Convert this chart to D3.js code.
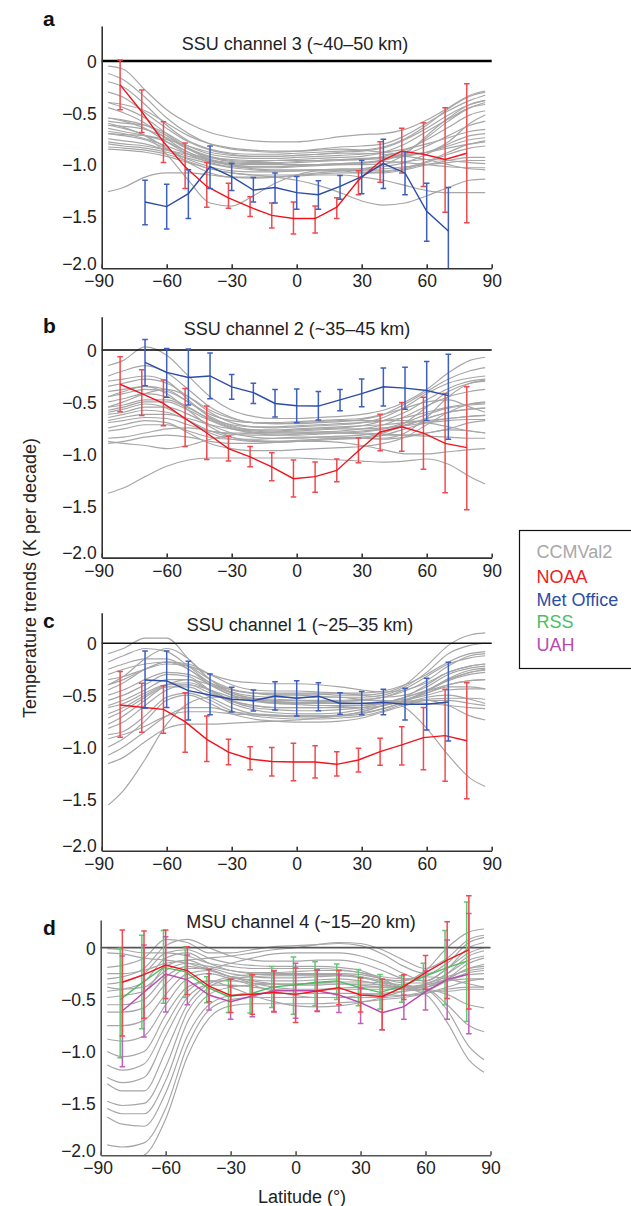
<!DOCTYPE html>
<html><head><meta charset="utf-8">
<script src="https://cdn.jsdelivr.net/npm/d3@7"></script>
<style>body{margin:0;background:#fff}svg{display:block}</style>
</head><body><svg id="c" width="631" height="1206"></svg>
<script>
// ---------------- DATA ----------------
const panelLetters = ["a","b","c","d"];
const panelTitles = ["SSU channel 3 (~40\u201350 km)","SSU channel 2 (~35\u201345 km)","SSU channel 1 (~25\u201335 km)","MSU channel 4 (~15\u201320 km)"];
const xTicks = [-90,-60,-30,0,30,60,90];
const xTickLabels = ["\u221290","\u221260","\u221230","0","30","60","90"];
const yTicks = [0,-0.5,-1.0,-1.5,-2.0];
const yTickLabels = ["0","\u22120.5","\u22121.0","\u22121.5","\u22122.0"];
const legendNames = ["CCMVal2","NOAA","Met Office","RSS","UAH"];

const ccmLat = [-87,-80,-70,-60,-50,-40,-30,-20,-10,0,10,20,30,40,50,60,70,80,87];
const ccmA = [
 [-0.05,-0.08,-0.28,-0.47,-0.60,-0.69,-0.74,-0.77,-0.78,-0.78,-0.76,-0.73,-0.71,-0.70,-0.66,-0.57,-0.45,-0.33,-0.29],
 [-0.12,-0.18,-0.35,-0.55,-0.70,-0.80,-0.85,-0.87,-0.88,-0.87,-0.85,-0.83,-0.82,-0.80,-0.72,-0.60,-0.48,-0.38,-0.33],
 [-0.30,-0.35,-0.50,-0.65,-0.78,-0.86,-0.90,-0.92,-0.92,-0.91,-0.90,-0.88,-0.87,-0.84,-0.76,-0.65,-0.52,-0.42,-0.38],
 [-0.40,-0.45,-0.55,-0.70,-0.84,-0.92,-0.96,-0.97,-0.96,-0.95,-0.94,-0.93,-0.92,-0.88,-0.80,-0.68,-0.56,-0.45,-0.42],
 [-0.45,-0.50,-0.60,-0.75,-0.88,-0.95,-0.98,-0.99,-0.99,-0.98,-0.97,-0.96,-0.95,-0.92,-0.86,-0.76,-0.64,-0.52,-0.48],
 [-0.55,-0.58,-0.65,-0.78,-0.90,-0.98,-1.02,-1.03,-1.03,-1.02,-1.01,-1.00,-0.99,-0.96,-0.90,-0.82,-0.72,-0.62,-0.58],
 [-0.58,-0.60,-0.62,-0.70,-0.82,-0.90,-0.93,-0.94,-0.94,-0.93,-0.92,-0.91,-0.90,-0.88,-0.85,-0.80,-0.74,-0.68,-0.66],
 [-0.62,-0.63,-0.66,-0.74,-0.85,-0.93,-0.97,-0.98,-0.98,-0.97,-0.96,-0.95,-0.95,-0.94,-0.92,-0.88,-0.82,-0.76,-0.74],
 [-0.65,-0.68,-0.72,-0.78,-0.88,-0.96,-1.01,-1.04,-1.05,-1.05,-1.05,-1.04,-1.04,-1.02,-0.98,-0.90,-0.80,-0.72,-0.70],
 [-0.68,-0.70,-0.75,-0.82,-0.90,-0.96,-0.99,-1.00,-1.00,-1.00,-1.00,-1.00,-1.00,-0.99,-0.97,-0.95,-0.96,-0.98,-0.99],
 [-0.70,-0.72,-0.76,-0.85,-0.95,-1.02,-1.06,-1.07,-1.07,-1.06,-1.05,-1.05,-1.06,-1.06,-1.03,-0.97,-0.88,-0.80,-0.77],
 [-0.75,-0.77,-0.80,-0.86,-0.92,-0.97,-1.00,-1.02,-1.02,-1.01,-1.00,-0.99,-0.98,-0.97,-0.98,-1.00,-1.02,-1.03,-1.03],
 [-0.78,-0.80,-0.82,-0.86,-0.90,-0.93,-0.95,-0.96,-0.96,-0.96,-0.96,-0.95,-0.94,-0.93,-0.91,-0.88,-0.84,-0.80,-0.78],
 [-0.80,-0.82,-0.84,-0.88,-0.94,-0.99,-1.03,-1.05,-1.06,-1.06,-1.05,-1.05,-1.05,-1.04,-1.02,-1.00,-0.98,-0.96,-0.96],
 [-0.83,-0.84,-0.86,-0.90,-0.97,-1.04,-1.08,-1.10,-1.10,-1.10,-1.09,-1.08,-1.08,-1.07,-1.04,-0.98,-0.90,-0.84,-0.82],
 [-0.40,-0.42,-0.48,-0.60,-0.72,-0.80,-0.84,-0.86,-0.87,-0.87,-0.86,-0.85,-0.86,-0.88,-0.90,-0.88,-0.78,-0.60,-0.52],
 [-0.62,-0.65,-0.72,-0.90,-1.15,-1.37,-1.40,-1.30,-1.18,-1.10,-1.06,-1.06,-1.08,-1.08,-1.05,-1.00,-0.96,-0.93,-0.93],
 [-1.26,-1.22,-1.12,-1.08,-1.08,-1.10,-1.12,-1.12,-1.12,-1.11,-1.10,-1.10,-1.12,-1.15,-1.20,-1.25,-1.27,-1.27,-1.27],
 [-0.85,-0.86,-0.88,-0.92,-0.98,-1.04,-1.08,-1.10,-1.12,-1.15,-1.20,-1.27,-1.35,-1.39,-1.37,-1.30,-1.22,-1.15,-1.14],
 [-0.20,-0.25,-0.42,-0.62,-0.77,-0.85,-0.89,-0.90,-0.90,-0.89,-0.88,-0.87,-0.86,-0.83,-0.75,-0.62,-0.46,-0.34,-0.30],
 [-0.55,-0.57,-0.62,-0.72,-0.85,-0.95,-1.00,-1.02,-1.02,-1.01,-1.00,-0.99,-0.98,-0.95,-0.88,-0.74,-0.58,-0.45,-0.40],
 [-0.70,-0.71,-0.72,-0.76,-0.82,-0.88,-0.91,-0.92,-0.92,-0.91,-0.90,-0.89,-0.89,-0.90,-0.92,-0.95,-1.00,-1.04,-1.05],
 [-0.60,-0.64,-0.72,-0.84,-0.98,-1.08,-1.12,-1.13,-1.12,-1.10,-1.08,-1.06,-1.04,-1.00,-0.90,-0.72,-0.55,-0.42,-0.38]
];
const ccmB = [
 [-0.15,-0.10,0.03,-0.05,-0.25,-0.45,-0.58,-0.64,-0.66,-0.66,-0.65,-0.64,-0.62,-0.58,-0.50,-0.38,-0.22,-0.10,-0.07],
 [-0.25,-0.20,-0.15,-0.22,-0.38,-0.55,-0.65,-0.70,-0.71,-0.71,-0.70,-0.69,-0.67,-0.62,-0.52,-0.40,-0.28,-0.20,-0.17],
 [-0.35,-0.32,-0.28,-0.32,-0.45,-0.60,-0.70,-0.74,-0.75,-0.74,-0.73,-0.72,-0.70,-0.65,-0.55,-0.42,-0.32,-0.27,-0.25],
 [-0.45,-0.40,-0.35,-0.38,-0.50,-0.64,-0.73,-0.77,-0.78,-0.77,-0.76,-0.75,-0.73,-0.68,-0.60,-0.48,-0.37,-0.30,-0.28],
 [-0.50,-0.47,-0.42,-0.45,-0.55,-0.67,-0.75,-0.79,-0.80,-0.80,-0.79,-0.78,-0.76,-0.72,-0.64,-0.54,-0.45,-0.40,-0.38],
 [-0.55,-0.53,-0.48,-0.48,-0.56,-0.66,-0.72,-0.74,-0.74,-0.73,-0.72,-0.71,-0.70,-0.68,-0.65,-0.60,-0.55,-0.52,-0.51],
 [-0.58,-0.55,-0.50,-0.50,-0.58,-0.68,-0.76,-0.80,-0.82,-0.82,-0.81,-0.80,-0.79,-0.76,-0.70,-0.62,-0.56,-0.53,-0.52],
 [-0.62,-0.60,-0.55,-0.55,-0.62,-0.72,-0.80,-0.84,-0.85,-0.85,-0.84,-0.83,-0.82,-0.79,-0.73,-0.66,-0.60,-0.57,-0.56],
 [-0.65,-0.62,-0.58,-0.60,-0.68,-0.78,-0.84,-0.87,-0.88,-0.88,-0.87,-0.86,-0.85,-0.82,-0.76,-0.70,-0.66,-0.64,-0.63],
 [-0.70,-0.68,-0.65,-0.66,-0.72,-0.78,-0.80,-0.80,-0.79,-0.78,-0.77,-0.76,-0.76,-0.75,-0.73,-0.70,-0.68,-0.67,-0.67],
 [-0.55,-0.50,-0.42,-0.38,-0.45,-0.58,-0.66,-0.70,-0.71,-0.70,-0.69,-0.68,-0.68,-0.68,-0.68,-0.70,-0.74,-0.78,-0.80],
 [-0.85,-0.84,-0.80,-0.76,-0.75,-0.78,-0.81,-0.82,-0.82,-0.81,-0.80,-0.80,-0.80,-0.81,-0.82,-0.83,-0.84,-0.85,-0.85],
 [-0.88,-0.90,-0.92,-0.95,-0.92,-0.86,-0.82,-0.80,-0.80,-0.80,-0.80,-0.80,-0.81,-0.82,-0.82,-0.80,-0.76,-0.70,-0.68],
 [-0.40,-0.38,-0.35,-0.42,-0.58,-0.74,-0.84,-0.88,-0.89,-0.88,-0.86,-0.85,-0.85,-0.85,-0.80,-0.65,-0.45,-0.32,-0.29],
 [-0.30,-0.28,-0.25,-0.30,-0.48,-0.65,-0.74,-0.77,-0.77,-0.76,-0.75,-0.74,-0.73,-0.72,-0.70,-0.68,-0.66,-0.64,-0.63],
 [-0.75,-0.72,-0.68,-0.70,-0.80,-0.90,-0.95,-0.97,-0.97,-0.96,-0.95,-0.94,-0.93,-0.90,-0.84,-0.72,-0.60,-0.52,-0.50],
 [-1.38,-1.33,-1.22,-1.12,-1.06,-1.04,-1.04,-1.04,-1.04,-1.04,-1.05,-1.06,-1.07,-1.08,-1.07,-1.05,-1.10,-1.22,-1.29],
 [-0.90,-0.88,-0.84,-0.82,-0.84,-0.88,-0.90,-0.90,-0.89,-0.88,-0.88,-0.89,-0.92,-0.96,-1.00,-1.00,-0.98,-0.96,-0.95],
 [-0.45,-0.42,-0.38,-0.40,-0.50,-0.62,-0.68,-0.70,-0.70,-0.69,-0.68,-0.67,-0.66,-0.62,-0.56,-0.50,-0.48,-0.55,-0.60],
 [-0.60,-0.57,-0.52,-0.56,-0.68,-0.80,-0.86,-0.88,-0.88,-0.87,-0.86,-0.85,-0.84,-0.80,-0.70,-0.55,-0.40,-0.32,-0.30],
 [-0.68,-0.65,-0.62,-0.62,-0.66,-0.72,-0.76,-0.78,-0.79,-0.79,-0.79,-0.79,-0.78,-0.76,-0.72,-0.66,-0.60,-0.57,-0.56],
 [-0.78,-0.76,-0.72,-0.72,-0.78,-0.84,-0.86,-0.86,-0.85,-0.84,-0.84,-0.84,-0.85,-0.86,-0.84,-0.80,-0.77,-0.78,-0.80]
];
const ccmC = [
 [-0.10,-0.05,0.05,0.05,-0.15,-0.35,-0.45,-0.48,-0.49,-0.49,-0.49,-0.50,-0.50,-0.48,-0.40,-0.22,-0.02,0.08,0.10],
 [-0.18,-0.12,-0.05,-0.08,-0.22,-0.38,-0.47,-0.51,-0.52,-0.52,-0.52,-0.52,-0.52,-0.50,-0.42,-0.28,-0.10,-0.02,0.00],
 [-0.25,-0.20,-0.15,-0.15,-0.25,-0.38,-0.45,-0.48,-0.48,-0.48,-0.48,-0.48,-0.48,-0.46,-0.40,-0.30,-0.18,-0.10,-0.08],
 [-0.30,-0.25,-0.20,-0.18,-0.25,-0.40,-0.50,-0.55,-0.57,-0.57,-0.57,-0.56,-0.55,-0.52,-0.44,-0.32,-0.20,-0.14,-0.12],
 [-0.35,-0.32,-0.25,-0.20,-0.22,-0.30,-0.36,-0.38,-0.39,-0.39,-0.40,-0.42,-0.45,-0.47,-0.45,-0.38,-0.28,-0.22,-0.20],
 [-0.45,-0.38,-0.25,-0.18,-0.20,-0.30,-0.40,-0.45,-0.46,-0.46,-0.47,-0.48,-0.50,-0.52,-0.50,-0.42,-0.30,-0.24,-0.22],
 [-0.50,-0.45,-0.35,-0.28,-0.30,-0.40,-0.50,-0.55,-0.58,-0.59,-0.60,-0.60,-0.60,-0.57,-0.52,-0.45,-0.35,-0.28,-0.26],
 [-0.55,-0.50,-0.40,-0.30,-0.32,-0.45,-0.56,-0.62,-0.64,-0.65,-0.65,-0.64,-0.62,-0.58,-0.52,-0.46,-0.40,-0.36,-0.35],
 [-0.60,-0.55,-0.45,-0.35,-0.35,-0.46,-0.58,-0.64,-0.67,-0.68,-0.68,-0.67,-0.64,-0.60,-0.55,-0.50,-0.45,-0.44,-0.44],
 [-0.68,-0.62,-0.50,-0.40,-0.38,-0.45,-0.55,-0.60,-0.62,-0.62,-0.62,-0.61,-0.60,-0.58,-0.56,-0.54,-0.53,-0.53,-0.54],
 [-0.78,-0.70,-0.55,-0.42,-0.42,-0.52,-0.62,-0.68,-0.70,-0.71,-0.71,-0.70,-0.66,-0.60,-0.52,-0.40,-0.28,-0.22,-0.20],
 [-0.82,-0.76,-0.60,-0.45,-0.40,-0.45,-0.52,-0.56,-0.58,-0.58,-0.58,-0.58,-0.58,-0.57,-0.57,-0.58,-0.60,-0.62,-0.63],
 [-0.88,-0.85,-0.70,-0.52,-0.48,-0.55,-0.65,-0.70,-0.72,-0.73,-0.73,-0.72,-0.70,-0.65,-0.58,-0.52,-0.50,-0.54,-0.58],
 [-1.00,-0.92,-0.75,-0.55,-0.50,-0.58,-0.68,-0.73,-0.75,-0.76,-0.76,-0.75,-0.72,-0.66,-0.60,-0.55,-0.60,-0.70,-0.74],
 [-1.08,-1.00,-0.85,-0.70,-0.62,-0.62,-0.66,-0.68,-0.69,-0.70,-0.70,-0.69,-0.67,-0.63,-0.56,-0.46,-0.36,-0.30,-0.28],
 [-1.16,-1.10,-0.95,-0.82,-0.78,-0.78,-0.77,-0.76,-0.75,-0.74,-0.72,-0.70,-0.66,-0.60,-0.55,-0.48,-0.42,-0.42,-0.44],
 [-1.56,-1.42,-1.12,-0.78,-0.58,-0.52,-0.52,-0.53,-0.54,-0.55,-0.56,-0.57,-0.58,-0.58,-0.57,-0.55,-0.55,-0.58,-0.60],
 [-0.40,-0.32,-0.15,-0.05,-0.15,-0.35,-0.48,-0.54,-0.56,-0.57,-0.57,-0.56,-0.55,-0.55,-0.62,-0.82,-1.08,-1.30,-1.38],
 [-0.62,-0.58,-0.48,-0.40,-0.40,-0.48,-0.56,-0.60,-0.62,-0.62,-0.62,-0.62,-0.62,-0.60,-0.55,-0.48,-0.40,-0.36,-0.35],
 [-0.72,-0.65,-0.52,-0.40,-0.35,-0.40,-0.48,-0.53,-0.55,-0.55,-0.55,-0.55,-0.54,-0.52,-0.46,-0.36,-0.22,-0.12,-0.10],
 [-0.92,-0.88,-0.80,-0.70,-0.66,-0.66,-0.68,-0.69,-0.70,-0.70,-0.70,-0.70,-0.68,-0.63,-0.56,-0.46,-0.35,-0.28,-0.25],
 [-0.40,-0.35,-0.25,-0.18,-0.22,-0.35,-0.44,-0.48,-0.50,-0.50,-0.51,-0.52,-0.54,-0.56,-0.54,-0.46,-0.34,-0.26,-0.24]
];
const ccmD = [
 [-0.01,-0.02,-0.05,-0.05,-0.08,-0.15,-0.18,-0.20,-0.20,-0.20,-0.20,-0.21,-0.24,-0.30,-0.32,-0.22,0.00,0.15,0.18],
 [-0.19,-0.17,-0.10,0.08,0.05,-0.05,-0.05,-0.02,0.01,0.02,0.03,0.04,0.02,-0.06,-0.18,-0.25,-0.15,0.05,0.10],
 [-0.30,-0.28,-0.20,0.02,0.08,0.00,-0.08,-0.12,-0.13,-0.13,-0.12,-0.12,-0.15,-0.22,-0.30,-0.32,-0.20,-0.05,0.00],
 [-0.35,-0.33,-0.25,-0.05,-0.02,-0.10,-0.15,-0.17,-0.18,-0.18,-0.18,-0.19,-0.22,-0.30,-0.38,-0.38,-0.25,-0.08,-0.03],
 [-0.42,-0.40,-0.33,-0.10,-0.05,-0.15,-0.22,-0.25,-0.26,-0.26,-0.26,-0.26,-0.28,-0.34,-0.40,-0.40,-0.30,-0.15,-0.10],
 [-0.48,-0.46,-0.42,-0.18,-0.12,-0.20,-0.28,-0.31,-0.32,-0.32,-0.31,-0.30,-0.32,-0.36,-0.38,-0.35,-0.28,-0.22,-0.20],
 [-0.55,-0.55,-0.50,-0.28,-0.18,-0.22,-0.28,-0.32,-0.35,-0.36,-0.36,-0.35,-0.35,-0.36,-0.38,-0.36,-0.32,-0.30,-0.30],
 [-0.62,-0.62,-0.58,-0.35,-0.20,-0.20,-0.25,-0.28,-0.29,-0.29,-0.28,-0.27,-0.28,-0.32,-0.38,-0.42,-0.42,-0.40,-0.40],
 [-0.75,-0.75,-0.70,-0.45,-0.25,-0.22,-0.28,-0.34,-0.38,-0.40,-0.40,-0.39,-0.38,-0.38,-0.38,-0.36,-0.30,-0.20,-0.16],
 [-0.88,-0.90,-0.85,-0.55,-0.30,-0.25,-0.30,-0.36,-0.42,-0.46,-0.48,-0.48,-0.46,-0.44,-0.42,-0.40,-0.45,-0.55,-0.58],
 [-1.00,-1.05,-1.00,-0.65,-0.38,-0.32,-0.38,-0.46,-0.52,-0.56,-0.57,-0.56,-0.53,-0.48,-0.42,-0.40,-0.55,-0.75,-0.81],
 [-1.13,-1.18,-1.12,-0.75,-0.42,-0.32,-0.32,-0.34,-0.35,-0.35,-0.34,-0.33,-0.33,-0.34,-0.36,-0.40,-0.60,-0.95,-1.08],
 [-1.25,-1.30,-1.25,-0.85,-0.48,-0.36,-0.36,-0.38,-0.40,-0.41,-0.41,-0.40,-0.40,-0.40,-0.40,-0.45,-0.72,-1.08,-1.20],
 [-1.31,-1.38,-1.38,-1.00,-0.55,-0.35,-0.28,-0.26,-0.25,-0.25,-0.25,-0.25,-0.26,-0.30,-0.34,-0.34,-0.25,-0.12,-0.08],
 [-1.48,-1.52,-1.50,-1.15,-0.62,-0.38,-0.30,-0.28,-0.27,-0.27,-0.27,-0.27,-0.29,-0.33,-0.38,-0.38,-0.30,-0.20,-0.18],
 [-1.55,-1.60,-1.60,-1.28,-0.72,-0.45,-0.38,-0.36,-0.35,-0.35,-0.35,-0.35,-0.36,-0.38,-0.40,-0.38,-0.32,-0.26,-0.25],
 [-1.63,-1.70,-1.72,-1.40,-0.85,-0.55,-0.46,-0.44,-0.44,-0.44,-0.44,-0.44,-0.44,-0.45,-0.46,-0.44,-0.40,-0.38,-0.38],
 [-1.90,-1.92,-1.88,-1.55,-0.95,-0.60,-0.50,-0.48,-0.48,-0.48,-0.48,-0.48,-0.48,-0.48,-0.46,-0.42,-0.32,-0.24,-0.22],
 [-2.02,-2.05,-2.00,-1.65,-1.05,-0.68,-0.56,-0.54,-0.54,-0.54,-0.54,-0.53,-0.52,-0.50,-0.48,-0.44,-0.38,-0.32,-0.30],
 [-0.05,-0.06,-0.10,-0.12,-0.15,-0.20,-0.15,-0.10,-0.06,-0.05,-0.05,-0.05,-0.08,-0.15,-0.25,-0.32,-0.20,0.00,0.05],
 [-0.25,-0.25,-0.22,-0.15,-0.12,-0.10,-0.08,-0.05,-0.02,0.00,0.03,0.05,0.04,-0.02,-0.12,-0.20,-0.10,0.08,0.12],
 [-0.38,-0.40,-0.38,-0.22,-0.15,-0.18,-0.22,-0.24,-0.24,-0.23,-0.22,-0.22,-0.24,-0.28,-0.30,-0.28,-0.30,-0.35,-0.38]
];

// observations, SSU channels (a-c)
const noaaLatSSU = [-81.5,-71.5,-61.5,-51.5,-41.5,-31.5,-21.5,-11.5,-1.5,8.5,18.5,28.5,38.5,48.5,58.5,68.5,78.5];
const moLatSSU = [-70,-60,-50,-40,-30,-20,-10,0,10,20,30,40,50,60,70];

const noaaA   = [-0.23,-0.49,-0.78,-1.02,-1.21,-1.32,-1.41,-1.49,-1.52,-1.52,-1.41,-1.15,-0.97,-0.87,-0.90,-0.95,-0.89];
const noaaAHi = [0.01,-0.28,-0.585,-0.79,-0.98,-1.18,-1.31,-1.37,-1.36,-1.40,-1.32,-1.06,-0.78,-0.65,-0.595,-0.45,-0.22];
const noaaALo = [-0.47,-0.69,-0.98,-1.23,-1.41,-1.42,-1.50,-1.61,-1.67,-1.66,-1.52,-1.29,-1.17,-1.08,-1.21,-1.46,-1.56];
const moA   = [-1.36,-1.405,-1.28,-1.02,-1.115,-1.245,-1.22,-1.27,-1.29,-1.21,-1.115,-0.99,-1.08,-1.45,-1.64];
const moAHi = [-1.15,-1.19,-1.05,-0.82,-0.99,-1.125,-1.08,-1.115,-1.155,-1.105,-0.96,-0.755,-0.875,-1.18,-1.22];
const moALo = [-1.58,-1.62,-1.52,-1.23,-1.25,-1.36,-1.37,-1.43,-1.43,-1.335,-1.28,-1.23,-1.29,-1.74,-2.1];

const noaaB   = [-0.33,-0.42,-0.515,-0.66,-0.80,-0.95,-1.03,-1.125,-1.24,-1.22,-1.16,-0.97,-0.79,-0.74,-0.80,-0.90,-0.94];
const noaaBHi = [-0.064,-0.19,-0.29,-0.37,-0.54,-0.83,-0.93,-0.99,-1.06,-1.08,-1.05,-0.845,-0.62,-0.505,-0.455,-0.42,-0.355];
const noaaBLo = [-0.595,-0.63,-0.73,-0.93,-1.055,-1.07,-1.125,-1.26,-1.415,-1.37,-1.27,-1.087,-0.97,-0.975,-1.15,-1.375,-1.54];
const moB   = [-0.12,-0.215,-0.265,-0.25,-0.355,-0.41,-0.515,-0.537,-0.54,-0.48,-0.42,-0.354,-0.367,-0.39,-0.44];
const moBHi = [0.10,0.015,0.01,-0.03,-0.235,-0.32,-0.38,-0.376,-0.40,-0.38,-0.28,-0.174,-0.167,-0.11,-0.04];
const moBLo = [-0.345,-0.455,-0.53,-0.47,-0.475,-0.515,-0.645,-0.70,-0.675,-0.585,-0.547,-0.54,-0.57,-0.68,-0.86];

const noaaC   = [-0.595,-0.617,-0.637,-0.756,-0.926,-1.05,-1.116,-1.14,-1.145,-1.145,-1.167,-1.125,-1.045,-0.98,-0.91,-0.89,-0.94];
const noaaCHi = [-0.273,-0.386,-0.41,-0.476,-0.70,-0.926,-0.997,-1.006,-0.965,-0.987,-1.045,-1.013,-0.916,-0.804,-0.62,-0.444,-0.38];
const noaaCLo = [-0.907,-0.858,-0.868,-1.05,-1.14,-1.17,-1.22,-1.28,-1.325,-1.30,-1.28,-1.24,-1.177,-1.174,-1.22,-1.33,-1.50];
const moC   = [-0.354,-0.363,-0.457,-0.498,-0.54,-0.553,-0.508,-0.53,-0.51,-0.58,-0.58,-0.57,-0.588,-0.588,-0.566];
const moCHi = [-0.074,-0.074,-0.174,-0.296,-0.424,-0.45,-0.37,-0.36,-0.38,-0.476,-0.466,-0.444,-0.434,-0.338,-0.183];
const moCLo = [-0.627,-0.62,-0.74,-0.69,-0.662,-0.653,-0.643,-0.70,-0.65,-0.685,-0.69,-0.688,-0.74,-0.836,-0.942];

// observations, MSU channel 4 (d)
const msuLat = [-80,-70,-60,-50,-40,-30,-20,-10,0,10,20,30,40,50,60,70,80];
const rssLat = [-81,-71,-61,-51,-41,-31,-21,-11,-1,9,19,29,39,49,59,69,79];
const noaaD   = [-0.333,-0.26,-0.167,-0.22,-0.37,-0.46,-0.45,-0.43,-0.45,-0.417,-0.385,-0.456,-0.47,-0.375,-0.24,-0.12,-0.02];
const noaaDHi = [0.17,0.16,0.17,0.01,-0.21,-0.305,-0.26,-0.225,-0.195,-0.215,-0.22,-0.29,-0.305,-0.26,-0.075,0.25,0.50];
const noaaDLo = [-0.85,-0.68,-0.49,-0.45,-0.52,-0.625,-0.64,-0.62,-0.72,-0.615,-0.55,-0.62,-0.79,-0.50,-0.40,-0.49,-0.59];
const rssD   = [-0.50,-0.34,-0.19,-0.23,-0.38,-0.47,-0.445,-0.38,-0.36,-0.335,-0.32,-0.38,-0.43,-0.37,-0.28,-0.20,-0.13];
const rssDHi = [-0.005,0.12,0.165,0.01,-0.28,-0.31,-0.25,-0.18,-0.09,-0.135,-0.157,-0.21,-0.257,-0.27,-0.15,0.165,0.44];
const rssDLo = [-1.06,-0.78,-0.535,-0.48,-0.53,-0.625,-0.63,-0.575,-0.64,-0.56,-0.50,-0.56,-0.59,-0.525,-0.44,-0.55,-0.71];
const uahD   = [-0.61,-0.43,-0.253,-0.31,-0.456,-0.52,-0.465,-0.415,-0.415,-0.415,-0.456,-0.53,-0.626,-0.568,-0.424,-0.305,-0.254];
const uahDHi = [-0.08,0.026,0.105,-0.07,-0.25,-0.37,-0.26,-0.22,-0.15,-0.215,-0.26,-0.39,-0.47,-0.455,-0.225,0.074,0.33];
const uahDLo = [-1.146,-0.86,-0.62,-0.55,-0.60,-0.69,-0.665,-0.615,-0.68,-0.61,-0.625,-0.73,-0.79,-0.69,-0.60,-0.69,-0.83];

// ---------------- STYLE / LAYOUT ----------------
const FONT = '"Liberation Sans", Arial, Helvetica, sans-serif';
const COL = {ccm:"#a6a6a6", noaa:"#f0141e", noaaBar:"#f04a4f", mo:"#2b4ca8", moBar:"#3d5fbf", rss:"#46bf5e", rssBar:"#5ccb72", uah:"#b648b0", uahBar:"#c060ba"};
const legendColors = ["#a8a8a8","#ee1c25","#2e4fa6","#4cbf63","#b84aae"];

const layout = [
  {top:26,    y0:61,    y2:268.3, x0:101.7, x1:491.7, lx:43, ly:26,    tx:295, ty:49.5,  zeroW:2.4, zeroC:"#000", axC:"#333"},
  {top:316.7, y0:350,   y2:557.6, x0:101.7, x1:491.7, lx:43, ly:332.7, tx:297, ty:334.5, zeroW:1.5, zeroC:"#000", axC:"#333"},
  {top:612.7, y0:643.3, y2:850.7, x0:101.7, x1:491.7, lx:43, ly:628.3, tx:300, ty:630.7, zeroW:1.5, zeroC:"#111", axC:"#333"},
  {top:920,   y0:947.7, y2:1155.3,x0:100.7, x1:490.5, lx:43, ly:935,   tx:301, ty:928.3, zeroW:1.8, zeroC:"#555", axC:"#555"}
];

const panels = [
  {ccm:ccmA, obs:[
    {lat:noaaLatSSU, v:noaaA, hi:noaaAHi, lo:noaaALo, c:COL.noaa, bc:COL.noaaBar},
    {lat:moLatSSU, v:moA, hi:moAHi, lo:moALo, c:COL.mo, bc:COL.moBar}]},
  {ccm:ccmB, obs:[
    {lat:noaaLatSSU, v:noaaB, hi:noaaBHi, lo:noaaBLo, c:COL.noaa, bc:COL.noaaBar},
    {lat:moLatSSU, v:moB, hi:moBHi, lo:moBLo, c:COL.mo, bc:COL.moBar}]},
  {ccm:ccmC, obs:[
    {lat:noaaLatSSU, v:noaaC, hi:noaaCHi, lo:noaaCLo, c:COL.noaa, bc:COL.noaaBar},
    {lat:moLatSSU, v:moC, hi:moCHi, lo:moCLo, c:COL.mo, bc:COL.moBar}]},
  {ccm:ccmD, obs:[
    {lat:rssLat, v:rssD, hi:rssDHi, lo:rssDLo, c:COL.rss, bc:COL.rssBar},
    {lat:msuLat, v:uahD, hi:uahDHi, lo:uahDLo, c:COL.uah, bc:COL.uahBar},
    {lat:msuLat, v:noaaD, hi:noaaDHi, lo:noaaDLo, c:COL.noaa, bc:COL.noaaBar}]}
];

// ---------------- DRAW ----------------
const svg = d3.select("#c");
const defs = svg.append("defs");

panels.forEach((p, i) => {
  const L = layout[i];
  const x = d3.scaleLinear().domain([-90, 90]).range([L.x0, L.x1]);
  const yb = d3.scaleLinear().domain([-2, 0]).range([L.y2, L.y0]);
  const y = d3.scaleLinear().domain([-2, yb.invert(L.top)]).range([L.y2, L.top]);
  const g = svg.append("g");

  defs.append("clipPath").attr("id", "clip" + i).append("rect")
    .attr("x", L.x0).attr("y", L.top - 90).attr("width", L.x1 - L.x0).attr("height", L.y2 - L.top + 90);

  const line = d3.line().x(d => x(d[0])).y(d => y(d[1])).curve(d3.curveMonotoneX);

  const gc = g.append("g").attr("clip-path", `url(#clip${i})`);
  gc.selectAll("path.ccm").data(p.ccm).join("path").attr("class", "ccm")
    .attr("d", vals => line(vals.map((v, k) => [ccmLat[k], v])))
    .attr("fill", "none").attr("stroke", COL.ccm).attr("stroke-width", 1.15);

  // zero line
  g.append("line").attr("x1", x(-90)).attr("x2", x(90)).attr("y1", y(0)).attr("y2", y(0))
    .attr("stroke", L.zeroC).attr("stroke-width", L.zeroW);

  const go = g.append("g").attr("clip-path", `url(#clip${i})`);
  p.obs.forEach(s => {
    const pts = s.lat.map((la, k) => ({la, v:s.v[k], hi:s.hi[k], lo:s.lo[k]}));
    const bars = go.append("g").attr("stroke", s.bc).attr("stroke-width", 1.5).attr("fill", "none");
    bars.selectAll("line.v").data(pts).join("line").attr("class", "v")
      .attr("x1", d => x(d.la)).attr("x2", d => x(d.la)).attr("y1", d => y(d.hi)).attr("y2", d => y(d.lo));
    bars.selectAll("line.t").data(pts).join("line").attr("class", "t")
      .attr("x1", d => x(d.la) - 2.8).attr("x2", d => x(d.la) + 2.8).attr("y1", d => y(d.hi)).attr("y2", d => y(d.hi));
    bars.selectAll("line.b").data(pts).join("line").attr("class", "b")
      .attr("x1", d => x(d.la) - 2.8).attr("x2", d => x(d.la) + 2.8).attr("y1", d => y(d.lo)).attr("y2", d => y(d.lo));
    go.append("path").attr("d", d3.line().x(d => x(d.la)).y(d => y(d.v))(pts))
      .attr("fill", "none").attr("stroke", s.c).attr("stroke-width", 1.4);
  });

  // axes
  const yAx = g.append("g").attr("transform", `translate(${L.x0},0)`)
    .call(d3.axisLeft(y).tickValues(yTicks).tickFormat((d, k) => yTickLabels[k]).tickSize(0).tickPadding(5));
  const xAx = g.append("g").attr("transform", `translate(0,${L.y2})`)
    .call(d3.axisBottom(x).tickValues(xTicks).tickFormat((d, k) => xTickLabels[k]).tickSizeInner(-4).tickSizeOuter(0).tickPadding(6.5));
  [yAx, xAx].forEach(a => {
    a.attr("font-family", FONT).attr("font-size", 17.5);
    a.select(".domain").attr("stroke", L.axC).attr("stroke-width", 1.6);
    a.selectAll(".tick line").attr("stroke", L.axC).attr("stroke-width", 1.6);
    a.selectAll(".tick text").attr("fill", "#222");
  });
  // the bottom label (-2.0) sits slightly raised so it clears the x tick labels
  yAx.selectAll(".tick text").attr("dy", d => d === -2 ? "0.05em" : "0.36em");
  xAx.selectAll(".tick text").attr("dx", d => d === -90 ? "-3px" : 0);

  g.append("text").attr("x", L.lx).attr("y", L.ly).text(panelLetters[i])
    .attr("font-family", FONT).attr("font-weight", "bold").attr("font-size", 21).attr("fill", "#111");
  g.append("text").attr("x", L.tx).attr("y", L.ty).attr("text-anchor", "middle").text(panelTitles[i])
    .attr("font-family", FONT).attr("font-size", 18).attr("fill", "#222");
});

// axis titles
svg.append("text").attr("transform", "translate(36,578) rotate(-90)").attr("text-anchor", "middle")
  .attr("font-family", FONT).attr("font-size", 18).attr("fill", "#222").text("Temperature trends (K per decade)");
svg.append("text").attr("x", 302).attr("y", 1203).attr("text-anchor", "middle")
  .attr("font-family", FONT).attr("font-size", 18).attr("fill", "#222").text("Latitude (\u00b0)");

// legend
const lg = svg.append("g");
lg.append("rect").attr("x", 519.5).attr("y", 530.5).attr("width", 130).attr("height", 138)
  .attr("fill", "#fff").attr("stroke", "#111").attr("stroke-width", 1.2);
const legendY = [558, 583, 605.5, 628, 651];
lg.selectAll("text").data(legendNames).join("text")
  .attr("x", 536.5).attr("y", (d, k) => legendY[k]).text(d => d)
  .attr("fill", (d, k) => legendColors[k]).attr("font-family", FONT).attr("font-size", 18);
</script>
</body></html>
